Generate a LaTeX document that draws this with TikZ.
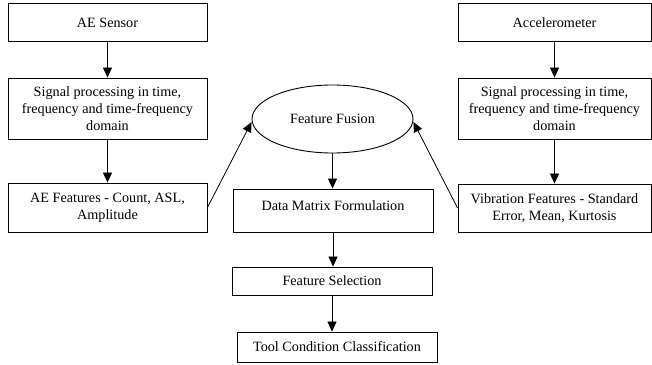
\documentclass[tikz,border=0pt]{standalone}
\usepackage{fontspec}
\setmainfont{Liberation Serif}
\usetikzlibrary{arrows.meta,shapes.geometric}
\begin{document}
\begin{tikzpicture}[x=1pt,y=-1pt,
  box/.style={draw,line width=0.9pt,inner sep=0pt,align=center,font=\fontsize{14.2}{16.8}\selectfont},
  arr/.style={line width=0.8pt,-{Triangle[length=10pt,width=9pt]}},
  line/.style={line width=0.8pt}]
\useasboundingbox (0,0) rectangle (652,364);
% left column
\node[box,minimum width=199pt,minimum height=38pt] (aes) at (107.5,22.5) {AE Sensor};
\node[box,minimum width=199pt,minimum height=61pt] (spl) at (107.5,108.5) {Signal processing in time,\\frequency and time-frequency\\domain};
\node[box,minimum width=199pt,minimum height=49pt] (aef) at (107.5,207.5) {AE Features - Count, ASL,\\Amplitude};
% right column
\node[box,minimum width=193pt,minimum height=38pt] (acc) at (554.5,22.5) {Accelerometer};
\node[box,minimum width=193pt,minimum height=61pt] (spr) at (554.5,108.5) {Signal processing in time,\\frequency and time-frequency\\domain};
\node[box,minimum width=193pt,minimum height=48pt] (vib) at (554.5,208) {Vibration Features - Standard\\Error, Mean, Kurtosis};
% centre
\node[box,ellipse,minimum width=161pt,minimum height=68pt] (ff) at (332.5,119) {Feature Fusion};
\node[box,minimum width=200pt,text height=21pt,text depth=22pt] (dm) at (333,210.5) {Data Matrix Formulation};
\node[box,minimum width=200pt,minimum height=28pt] (fs) at (332,281) {Feature Selection};
\node[box,minimum width=200pt,minimum height=30pt] (tc) at (337,347) {Tool Condition Classification};
% connectors
\draw[arr] (aes) -- (spl);
\draw[arr] (spl) -- (aef);
\draw[arr] (acc) -- (spr);
\draw[arr] (spr) -- (vib);
\draw[arr] (aef.east) -- ([yshift=-3pt]ff.west);
\draw[arr] (vib.west) -- ([yshift=-3pt]ff.east);
\draw[arr] (ff.south) -- (ff.south |- dm.north);
\draw[arr] (dm.south) -- (dm.south |- fs.north);
\draw[arr] (fs.south) -- (fs.south |- tc.north);
\end{tikzpicture}
\end{document}
